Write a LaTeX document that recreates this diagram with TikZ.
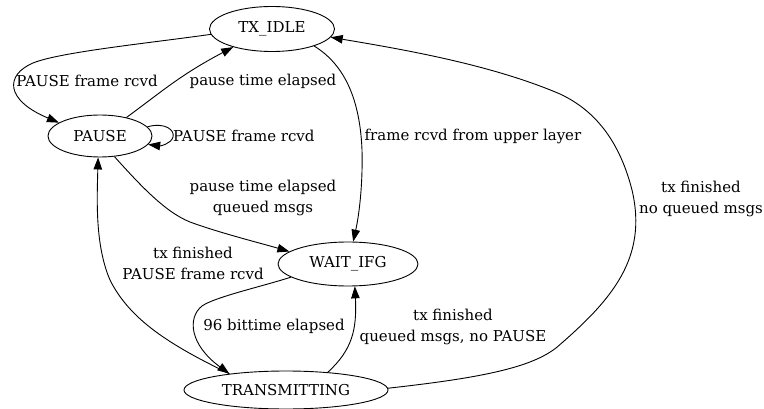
\documentclass[tikz,border=0pt]{standalone}
\usepackage{fontspec}
\setmainfont{DejaVu Serif}
\usetikzlibrary{shapes.geometric,arrows.meta}
\begin{document}
\begin{tikzpicture}[x=1pt,y=-1pt,
  state/.style={ellipse,draw,line width=0.9pt,inner sep=0pt},
  lbl/.style={font=\fontsize{15}{21}\selectfont,align=center,inner sep=0pt},
  edge/.style={line width=0.9pt,-{Triangle[length=12pt,width=8.5pt]}},
  every node/.append style={font=\fontsize{15}{21}\selectfont}]
\useasboundingbox (0,0) rectangle (764,409);
\node[state,minimum width=125pt,minimum height=45pt] (tx) at (272,29) {TX\_IDLE};
\node[state,minimum width=104pt,minimum height=42pt] (pa) at (100,136) {PAUSE};
\node[state,minimum width=140pt,minimum height=44pt] (wi) at (348,264) {WAIT\_IFG};
\node[state,minimum width=204pt,minimum height=38pt] (tr) at (286,390) {TRANSMITTING};
% edges
\draw[edge] (tx.185) .. controls (150,43) and (60,52) .. (33,63) .. controls (5,75) and (5,100) .. (pa.162);
\draw[edge] (pa.35) .. controls (160,93) and (180,75) .. (tx.205);
\draw[edge] (pa.11) .. controls (165,122) and (175,130) .. (173,137) .. controls (171,144) and (160,146) .. (pa.350);
\draw[edge] (tx.338) .. controls (345,65) and (360,100) .. (362,150) .. controls (363,190) and (358,220) .. (wi.77);
\draw[edge] (pa.305) .. controls (140,185) and (165,212) .. (190,222) .. controls (220,233) and (260,243) .. (wi.168);
\draw[edge] (tr.164) .. controls (170,345) and (130,320) .. (110,280) .. controls (95,245) and (97,200) .. (pa.265);
\draw[edge] (wi.193) .. controls (260,287) and (215,297) .. (202,306) .. controls (187,318) and (190,345) .. (tr.164);
\draw[edge] (tr.23) .. controls (352,350) and (357,330) .. (wi.287);
\draw[edge] (tr.1) .. controls (480,378) and (530,368) .. (556,348) .. controls (612,300) and (648,258) .. (632,190) .. controls (618,135) and (590,108) .. (560,94) .. controls (490,64) and (400,49) .. (tx.352);
% labels
\node[lbl] (l1) at (87,81) {PAUSE frame rcvd};
\node[lbl] (l2) at (263,81) {pause time elapsed};
\node[lbl,anchor=west] (l3) at (173,136) {PAUSE frame rcvd};
\node[lbl] (l4) at (473,136) {frame rcvd from upper layer};
\node[lbl] (l5) at (263,198) {pause time elapsed\\queued msgs};
\node[lbl] (l6) at (193,263) {tx finished\\PAUSE frame rcvd};
\node[lbl] (l7) at (274,326) {96 bittime elapsed};
\node[lbl] (l8) at (453,327) {tx finished\\queued msgs, no PAUSE};
\node[lbl] (l9) at (701,199) {tx finished\\no queued msgs};
\end{tikzpicture}
\end{document}
